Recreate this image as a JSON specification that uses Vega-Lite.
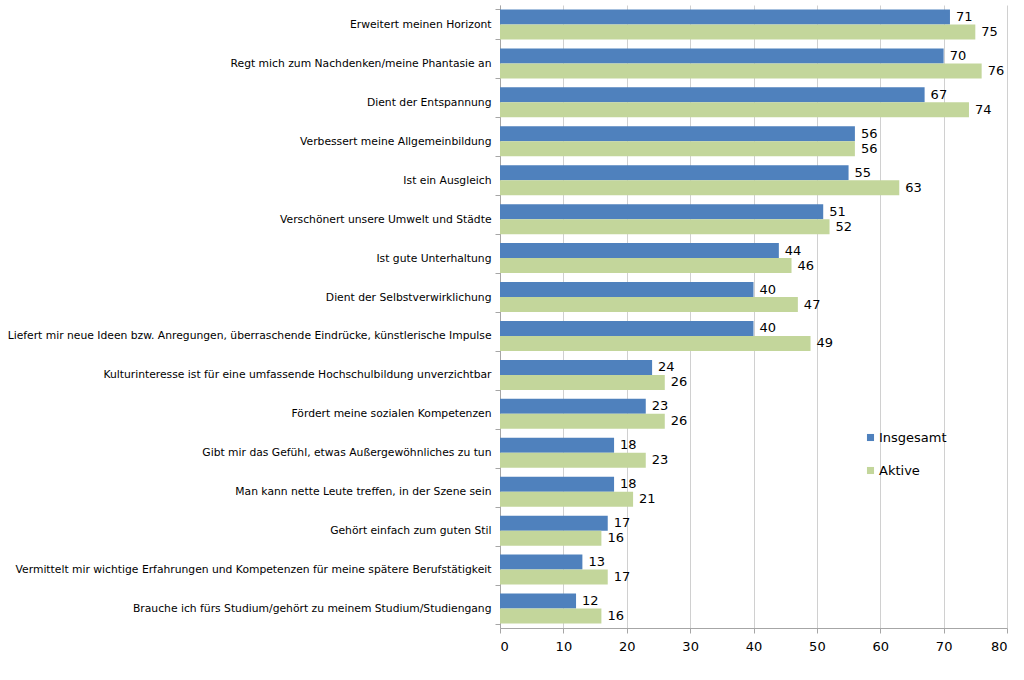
{
  "$schema": "https://vega.github.io/schema/vega-lite/v6.json",
  "width": 507,
  "height": 623,
  "autosize": {"type": "none"},
  "padding": {"left": 500, "top": 5, "right": 17, "bottom": 52},
  "background": "white",
  "config": {
    "font": "DejaVu Sans",
    "view": {"stroke": null}
  },
  "data": {
    "values": [
      {"item": "Erweitert meinen Horizont", "gruppe": "Insgesamt", "wert": 71},
      {"item": "Erweitert meinen Horizont", "gruppe": "Aktive", "wert": 75},
      {"item": "Regt mich zum Nachdenken/meine Phantasie an", "gruppe": "Insgesamt", "wert": 70},
      {"item": "Regt mich zum Nachdenken/meine Phantasie an", "gruppe": "Aktive", "wert": 76},
      {"item": "Dient der Entspannung", "gruppe": "Insgesamt", "wert": 67},
      {"item": "Dient der Entspannung", "gruppe": "Aktive", "wert": 74},
      {"item": "Verbessert meine Allgemeinbildung", "gruppe": "Insgesamt", "wert": 56},
      {"item": "Verbessert meine Allgemeinbildung", "gruppe": "Aktive", "wert": 56},
      {"item": "Ist ein Ausgleich", "gruppe": "Insgesamt", "wert": 55},
      {"item": "Ist ein Ausgleich", "gruppe": "Aktive", "wert": 63},
      {"item": "Verschönert unsere Umwelt und Städte", "gruppe": "Insgesamt", "wert": 51},
      {"item": "Verschönert unsere Umwelt und Städte", "gruppe": "Aktive", "wert": 52},
      {"item": "Ist gute Unterhaltung", "gruppe": "Insgesamt", "wert": 44},
      {"item": "Ist gute Unterhaltung", "gruppe": "Aktive", "wert": 46},
      {"item": "Dient der Selbstverwirklichung", "gruppe": "Insgesamt", "wert": 40},
      {"item": "Dient der Selbstverwirklichung", "gruppe": "Aktive", "wert": 47},
      {"item": "Liefert mir neue Ideen bzw. Anregungen, überraschende Eindrücke, künstlerische Impulse", "gruppe": "Insgesamt", "wert": 40},
      {"item": "Liefert mir neue Ideen bzw. Anregungen, überraschende Eindrücke, künstlerische Impulse", "gruppe": "Aktive", "wert": 49},
      {"item": "Kulturinteresse ist für eine umfassende Hochschulbildung unverzichtbar", "gruppe": "Insgesamt", "wert": 24},
      {"item": "Kulturinteresse ist für eine umfassende Hochschulbildung unverzichtbar", "gruppe": "Aktive", "wert": 26},
      {"item": "Fördert meine sozialen Kompetenzen", "gruppe": "Insgesamt", "wert": 23},
      {"item": "Fördert meine sozialen Kompetenzen", "gruppe": "Aktive", "wert": 26},
      {"item": "Gibt mir das Gefühl, etwas Außergewöhnliches zu tun", "gruppe": "Insgesamt", "wert": 18},
      {"item": "Gibt mir das Gefühl, etwas Außergewöhnliches zu tun", "gruppe": "Aktive", "wert": 23},
      {"item": "Man kann nette Leute treffen, in der Szene sein", "gruppe": "Insgesamt", "wert": 18},
      {"item": "Man kann nette Leute treffen, in der Szene sein", "gruppe": "Aktive", "wert": 21},
      {"item": "Gehört einfach zum guten Stil", "gruppe": "Insgesamt", "wert": 17},
      {"item": "Gehört einfach zum guten Stil", "gruppe": "Aktive", "wert": 16},
      {"item": "Vermittelt mir wichtige Erfahrungen und Kompetenzen für meine spätere Berufstätigkeit", "gruppe": "Insgesamt", "wert": 13},
      {"item": "Vermittelt mir wichtige Erfahrungen und Kompetenzen für meine spätere Berufstätigkeit", "gruppe": "Aktive", "wert": 17},
      {"item": "Brauche ich fürs Studium/gehört zu meinem Studium/Studiengang", "gruppe": "Insgesamt", "wert": 12},
      {"item": "Brauche ich fürs Studium/gehört zu meinem Studium/Studiengang", "gruppe": "Aktive", "wert": 16}
    ]
  },
  "encoding": {
    "y": {
      "field": "item",
      "type": "nominal",
      "sort": null,
      "scale": {"paddingInner": 0.23, "paddingOuter": 0.115},
      "axis": {
        "title": null,
        "labelFont": "DejaVu Sans",
        "labelFontSize": 10.75,
        "labelColor": "#000000",
        "labelPadding": 4,
        "labelLimit": 600,
        "domainColor": "#A6A6A6",
        "tickColor": "#A6A6A6",
        "tickBand": "extent",
        "tickSize": 5,
        "grid": false
      }
    },
    "yOffset": {
      "field": "gruppe",
      "type": "nominal",
      "sort": ["Insgesamt", "Aktive"]
    },
    "x": {
      "field": "wert",
      "type": "quantitative",
      "scale": {"domain": [0, 80], "nice": false},
      "axis": {
        "title": null,
        "values": [0, 10, 20, 30, 40, 50, 60, 70, 80],
        "labelFont": "DejaVu Sans",
        "labelFontSize": 13,
        "labelColor": "#000000",
        "labelPadding": 7,
        "domainColor": "#A6A6A6",
        "tickColor": "#A6A6A6",
        "tickSize": 5,
        "gridColor": "#D0D0D0",
        "grid": true
      }
    }
  },
  "layer": [
    {
      "mark": {"type": "bar"},
      "encoding": {
        "color": {
          "field": "gruppe",
          "type": "nominal",
          "sort": ["Insgesamt", "Aktive"],
          "scale": {"domain": ["Insgesamt", "Aktive"], "range": ["#4F81BD", "#C3D69B"]},
          "legend": {
            "title": null,
            "orient": "none",
            "legendX": 364,
            "legendY": 426,
            "symbolType": "square",
            "symbolSize": 50,
            "symbolStrokeWidth": 0,
            "labelFont": "DejaVu Sans",
            "labelFontSize": 13,
            "labelColor": "#000000",
            "labelOffset": 2,
            "rowPadding": 19
          }
        }
      }
    },
    {
      "mark": {"type": "text", "align": "left", "baseline": "middle", "dx": 6, "font": "DejaVu Sans", "fontSize": 13, "color": "#000000"},
      "encoding": {
        "text": {"field": "wert", "type": "quantitative"}
      }
    }
  ]
}
